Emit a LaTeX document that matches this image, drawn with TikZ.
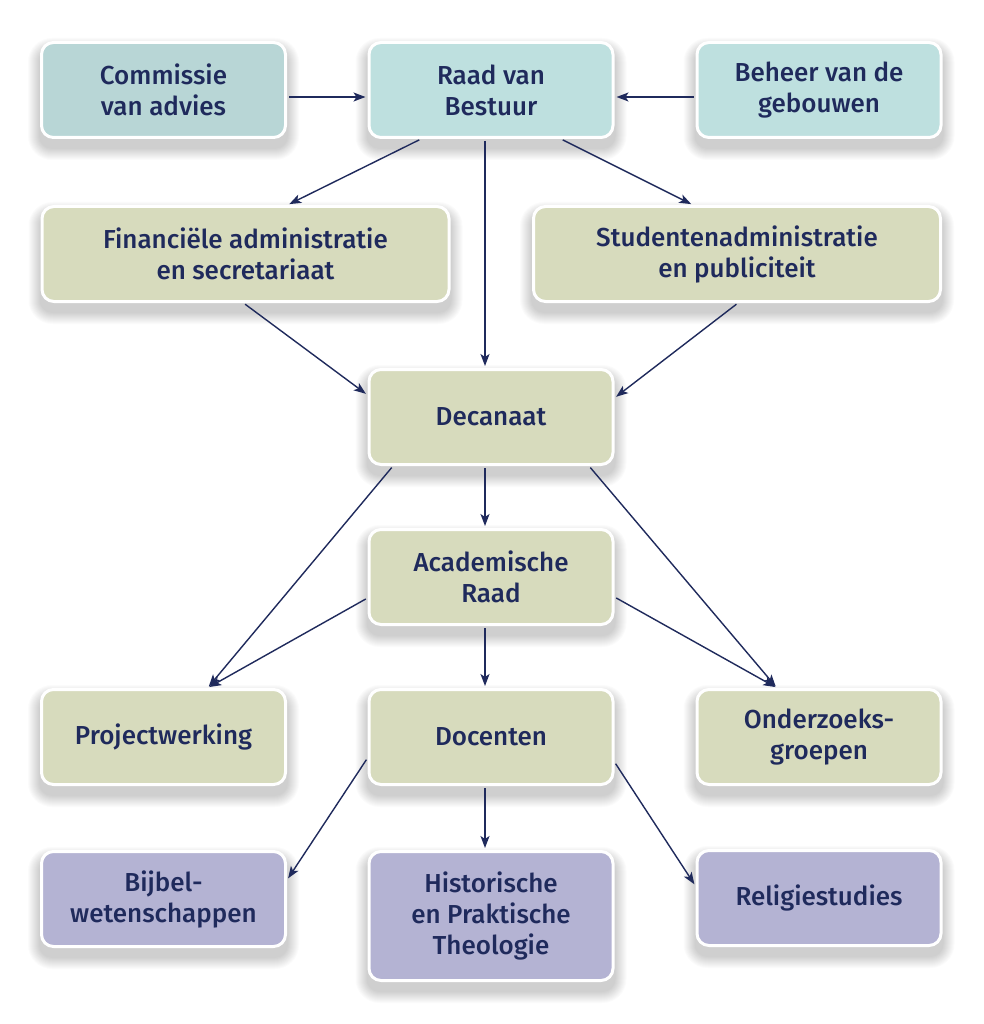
\documentclass[tikz,border=0pt]{standalone}
\usepackage{fontspec}
\setmainfont{Fira Sans}[UprightFont=* Medium]
\usetikzlibrary{arrows.meta,backgrounds,calc}
\definecolor{navyT}{HTML}{1F2A5C}
\definecolor{tealA}{HTML}{B8D6D6}
\definecolor{tealB}{HTML}{BEE0DF}
\definecolor{oliveG}{HTML}{D7DBBD}
\definecolor{lavP}{HTML}{B4B3D3}
\begin{document}
\begin{tikzpicture}[x=1pt,y=-1pt,
  box/.style={draw=white, line width=3pt, rounded corners=12pt, minimum width=244pt,
    minimum height=95pt, text=navyT, align=center, inner sep=0pt,
    font=\fontsize{26}{31}\selectfont},
  wide/.style={minimum width=407pt},
  conn/.style={draw=navyT, line width=1.4pt, -{Stealth[length=12pt,width=9pt,inset=3pt]},
    shorten <=2pt, shorten >=2pt}]
\useasboundingbox (0,0) rectangle (983,1024);
\node[box, fill=tealA] (com) at (163.5,90) {Commissie\\van advies};
\node[box, fill=tealB] (rvb) at (491,90) {Raad van\\Bestuur};
\node[box, fill=tealB] (beh) at (819,90) {Beheer van de\\gebouwen};
\node[box, wide, fill=oliveG] (fin) at (245.5,254) {Financiële administratie\\en secretariaat};
\node[box, wide, fill=oliveG] (stu) at (737,254) {Studentenadministratie\\en publiciteit};
\node[box, fill=oliveG] (dec) at (491,417) {Decanaat};
\node[box, fill=oliveG] (aca) at (491,577) {Academische\\Raad};
\node[box, fill=oliveG] (pro) at (163.5,737) {Projectwerking};
\node[box, fill=oliveG] (doc) at (491,737) {Docenten};
\node[box, fill=oliveG] (ond) at (819,737) {Onderzoeks-\\groepen};
\node[box, fill=lavP] (bij) at (163.5,899) {Bijbel-\\wetenschappen};
\node[box, fill=lavP, minimum height=129pt] (his) at (491,916) {Historische\\en Praktische\\Theologie};
\node[box, fill=lavP] (rel) at (819,898) {Religiestudies};

\begin{scope}[on background layer]
  \fill[white] (0,0) rectangle (983,1024);
  \foreach \n in {com,rvb,beh,fin,stu,dec,aca,pro,doc,ond,bij,his,rel}{
    \foreach \i in {1,...,12}{
      \pgfmathsetmacro\rr{12+\i}
      \fill[black, opacity=0.016, rounded corners=\rr pt]
        ($(\n.north west)+(-\i,9-\i)$) rectangle ($(\n.south east)+(\i,9+\i)$);
    }
  }
\end{scope}

\draw[conn] ([yshift=-7pt]com.east) -- ([yshift=-7pt]rvb.west);
\draw[conn] ([yshift=-7pt]beh.west) -- ([yshift=-7pt]rvb.east);
\draw[conn] ([xshift=-70pt]rvb.south) -- ([xshift=42pt]fin.north);
\draw[conn] ([xshift=-6pt]rvb.south) -- ([xshift=-6pt]dec.north);
\draw[conn] ([xshift=70pt]rvb.south) -- ([xshift=-44pt]stu.north);
\draw[conn] ([xshift=-2pt]fin.south) -- ([yshift=22pt]dec.west);
\draw[conn] ([xshift=1pt]stu.south) -- ([yshift=19pt]dec.east);
\draw[conn] ([xshift=-98pt]dec.south) -- ([xshift=44pt]pro.north);
\draw[conn] ([xshift=-6pt]dec.south) -- ([xshift=-6pt]aca.north);
\draw[conn] ([xshift=98pt]dec.south) -- ([xshift=-42pt]ond.north);
\draw[conn] ([yshift=-21pt]aca.west) -- ([xshift=44pt]pro.north);
\draw[conn] ([xshift=-6pt]aca.south) -- ([xshift=-6pt]doc.north);
\draw[conn] ([yshift=-20pt]aca.east) -- ([xshift=-42pt]ond.north);
\draw[conn] ([yshift=-21pt]doc.west) -- ([yshift=19pt]bij.east);
\draw[conn] ([xshift=-6pt]doc.south) -- ([xshift=-6pt]his.north);
\draw[conn] ([yshift=-25pt]doc.east) -- ([yshift=12pt]rel.west);
\end{tikzpicture}
\end{document}
